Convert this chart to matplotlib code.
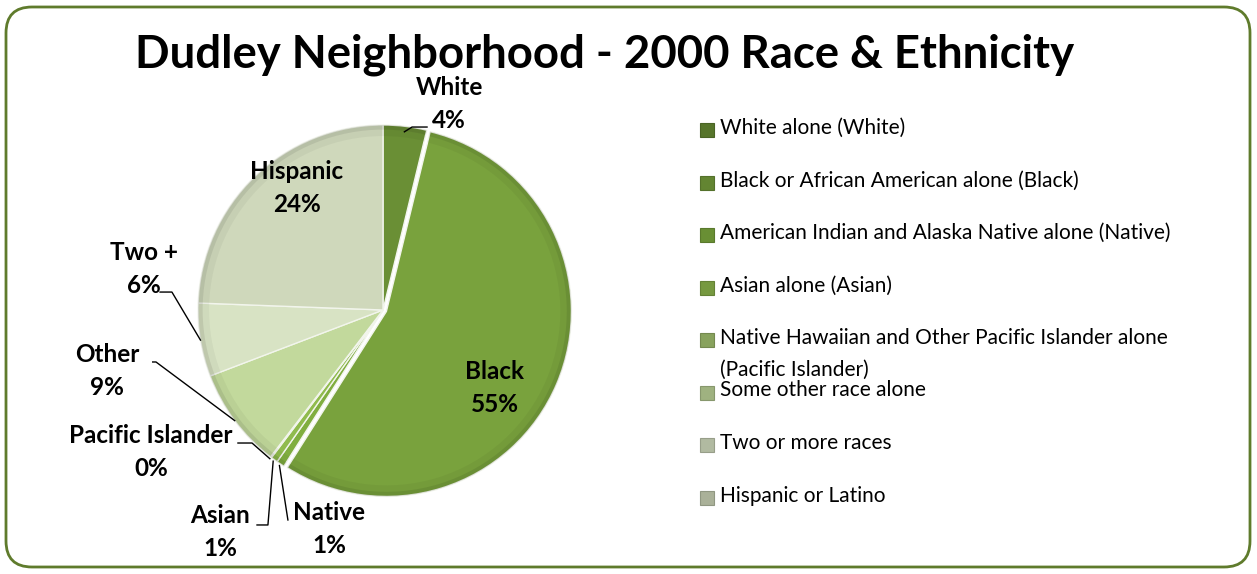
import numpy as np
import matplotlib.pyplot as plt
from matplotlib.patches import FancyBboxPatch, Rectangle, Wedge
from matplotlib.colors import to_rgb

# data
short_names = ['White', 'Black', 'Native', 'Asian', 'Pacific Islander', 'Other', 'Two +', 'Hispanic']
legend_labels = ['White alone (White)',
                 'Black or African American alone (Black)',
                 'American Indian and Alaska Native alone (Native)',
                 'Asian alone (Asian)',
                 'Native Hawaiian and Other Pacific Islander alone\n(Pacific Islander)',
                 'Some other race alone',
                 'Two or more races',
                 'Hispanic or Latino']
shares = [3.8, 55.2, 0.7, 0.6, 0.1, 8.8, 6.4, 24.4]
explode = [0, 0.02, 0, 0, 0, 0, 0, 0]
colors = ['#6a8f35', '#79a23d', '#80ae3f', '#90bb4e', '#a6c571', '#c2d99c', '#d8e3c4', '#cfd8bb']

title = 'Dudley Neighborhood - 2000 Race & Ethnicity'

W, H = 1257, 574
fig = plt.figure(figsize=(W / 100, H / 100), dpi=100)
fig.patch.set_facecolor('white')

# background axes in pixel units for frame, title and legend
bg = fig.add_axes([0, 0, 1, 1])
bg.set_xlim(0, W)
bg.set_ylim(H, 0)
bg.axis('off')

frame = FancyBboxPatch((6, 7), 1244, 560, boxstyle='round,pad=0,rounding_size=26',
                       facecolor='white', edgecolor='#5f7b2c', linewidth=2)
bg.add_patch(frame)

bg.text(605, 67, title, ha='center', va='baseline', fontsize=32.8,
        fontweight='bold', family='Lato')

# legend, drawn by hand to keep Excel's fixed row pitch
leg_x, leg_y0, leg_step = 707, 130, 52.5
for i, (lab, c) in enumerate(zip(legend_labels, colors)):
    y = leg_y0 + i * leg_step
    rgb = np.array(to_rgb(c)) * 0.82
    bg.add_patch(Rectangle((leg_x - 7, y - 7), 14, 14, facecolor=rgb,
                           edgecolor=rgb * 0.85, linewidth=0.8))
    bg.text(leg_x + 13, y - 12, lab, ha='left', va='top', fontsize=15,
            family='Lato', linespacing=1.72)

# pie axes: centre at (383, 310) px, radius 185 px
R = 185
half = 1.25 * R
ax = fig.add_axes([(383 - half) / W, (H - 310 - half) / H, 2 * half / W, 2 * half / H])
ax.set_xlim(-1.25, 1.25)
ax.set_ylim(-1.25, 1.25)
ax.axis('off')

wedges, _ = ax.pie(shares, colors=colors, explode=explode, startangle=90,
                   counterclock=False, radius=1,
                   wedgeprops=dict(edgecolor='#f2f5ec', linewidth=1.0))

# soft bevel shading toward the rim
for w in wedges:
    cx, cy = w.center
    for r0, a in [(0.975, 0.08), (0.94, 0.04)]:
        ax.add_patch(Wedge((cx, cy), w.r, w.theta1, w.theta2, width=w.r - r0,
                           facecolor='black', alpha=a, linewidth=0))


def pct(v):
    return '%d%%' % round(v)


def edge_pt(i, r=1.0):
    w = wedges[i]
    t = np.deg2rad((w.theta1 + w.theta2) / 2)
    cx, cy = w.center
    return cx + r * np.cos(t), cy + r * np.sin(t)


lab_kw = dict(ha='center', va='center', fontsize=17.5, fontweight='bold',
              family='Lato', linespacing=1.55)

# labels inside the big slices
ax.text(-0.465, 0.659, '%s\n%s' % (short_names[7], pct(shares[7])), **lab_kw)
ax.text(0.605, -0.422, '%s\n%s' % (short_names[1], pct(shares[1])), **lab_kw)

# outside labels with leader lines: (index, text pos, line path before the wedge)
outside = [
    (0, (0.357, 1.114), [(0.238, 0.989), (0.157, 0.989)], 0.97),
    (6, (-1.292, 0.222), [(-1.205, 0.097), (-1.141, 0.097)], 1.0),
    (5, (-1.492, -0.330), [(-1.292, -0.281), (-1.227, -0.281)], 1.0),
    (4, (-1.254, -0.768), [(-0.784, -0.719), (-0.708, -0.719)], 1.01),
    (3, (-0.881, -1.200), [(-0.681, -1.162), (-0.622, -1.162)], 1.01),
    (2, (-0.292, -1.184), [(-0.514, -1.135)], 1.01),
]
for i, pos, path, r in outside:
    ax.text(pos[0], pos[1], '%s\n%s' % (short_names[i], pct(shares[i])), **lab_kw)
    pts = path + [edge_pt(i, r)]
    xs, ys = zip(*pts)
    ax.plot(xs, ys, color='black', linewidth=1)

fig.savefig('out.png', dpi=100, facecolor='white')
